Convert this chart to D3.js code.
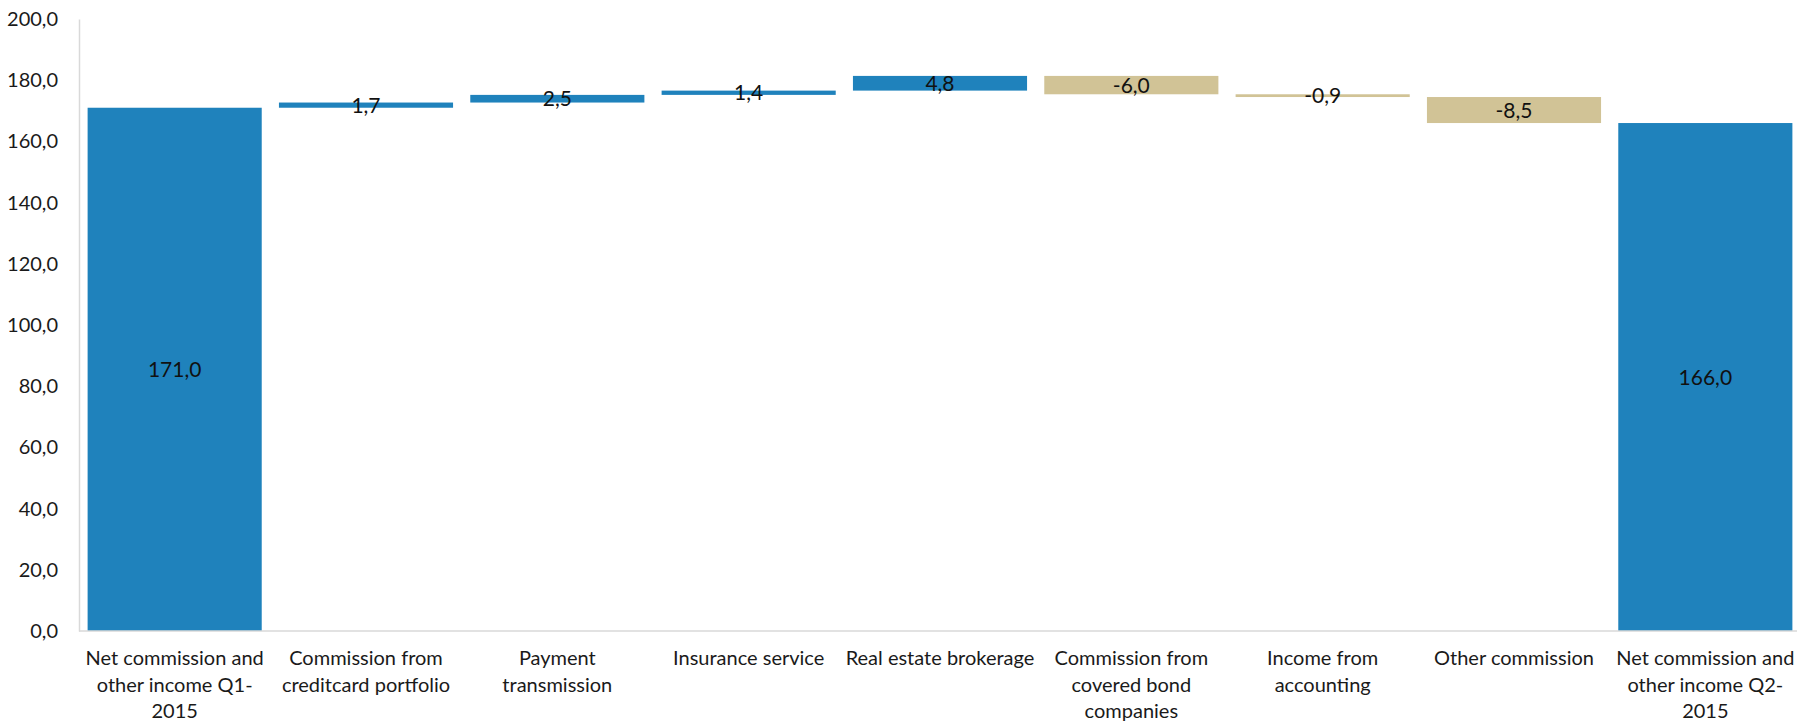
<!DOCTYPE html>
<html><head><meta charset="utf-8">
<script src="https://cdnjs.cloudflare.com/ajax/libs/d3/7.8.5/d3.min.js"></script>
<style>body{margin:0;background:#fff}svg{display:block}text{font-family:Lato,"Open Sans",sans-serif}</style>
</head><body><svg id="c" width="1797" height="722"></svg>
<script>
const categories = [
  "Net commission and\nother income Q1-\n2015",
  "Commission from\ncreditcard portfolio",
  "Payment\ntransmission",
  "Insurance service",
  "Real estate brokerage",
  "Commission from\ncovered bond\ncompanies",
  "Income from\naccounting",
  "Other commission",
  "Net commission and\nother income Q2-\n2015"
];
const values = [171.0, 1.7, 2.5, 1.4, 4.8, -6.0, -0.9, -8.5, 166.0];
const isTotal = [true, false, false, false, false, false, false, false, true];
const yTicks = [0, 20, 40, 60, 80, 100, 120, 140, 160, 180, 200];

const BLUE = "#1F82BC", TAN = "#D1C396";
const svg = d3.select("#c");
const m = {l: 79, r: -4, t: 19, b: 91};
const W = 1797, H = 722;
const x = d3.scaleBand().domain(d3.range(categories.length)).range([m.l, W - m.r]).paddingInner(0.09).paddingOuter(0.045);
const y = d3.scaleLinear().domain([0, 200]).range([H - m.b, m.t]);

let run = 0;
const bars = values.map((v, i) => {
  let lo, hi;
  if (isTotal[i]) { lo = 0; hi = v; run = v; }
  else { const s = run; run = run + v; lo = Math.min(s, run); hi = Math.max(s, run); }
  return {i, v, lo, hi, color: (isTotal[i] || v >= 0) ? BLUE : TAN};
});

const fmt = v => d3.format(".1f")(v).replace(".", ",").replace("−", "-");
const FS = 20;

const yAxis = d3.axisLeft(y).tickValues(yTicks).tickSize(0).tickPadding(21).tickFormat(fmt);
const gy = svg.append("g").attr("transform", `translate(${m.l},0)`).call(yAxis);
gy.select(".domain").attr("stroke", "#D9D9D9").attr("stroke-width", 1.5);
gy.selectAll("text").attr("font-size", FS).attr("fill", "#1a1a1a").attr("font-family", "Lato");

svg.selectAll("rect.bar").data(bars).join("rect").attr("class", "bar")
  .attr("x", d => x(d.i)).attr("width", x.bandwidth())
  .attr("y", d => y(d.hi)).attr("height", d => Math.max(1, y(d.lo) - y(d.hi)))
  .attr("fill", d => d.color);

const xAxis = d3.axisBottom(x).tickSize(0).tickFormat("");
const gx = svg.append("g").attr("transform", `translate(0,${y(0)})`).call(xAxis);
gx.select(".domain").attr("stroke", "#D9D9D9").attr("stroke-width", 1.5).attr("d", `M${m.l},0H${W}`);

categories.forEach((c, i) => {
  const cx = x(i) + x.bandwidth() / 2;
  const t = svg.append("text").attr("text-anchor", "middle").attr("font-size", FS).attr("fill", "#1a1a1a")
    .attr("x", cx).attr("y", y(0) + 34);
  c.split("\n").forEach((ln, k) => t.append("tspan").attr("x", cx).attr("dy", k ? 26.5 : 0).text(ln));
});

svg.selectAll("text.val").data(bars).join("text").attr("class", "val")
  .attr("text-anchor", "middle").attr("font-size", 21).attr("fill", "#111")
  .attr("x", d => x(d.i) + x.bandwidth() / 2)
  .attr("y", d => (y(d.lo) + y(d.hi)) / 2 + 7.5)
  .text(d => fmt(d.v));
</script></body></html>
